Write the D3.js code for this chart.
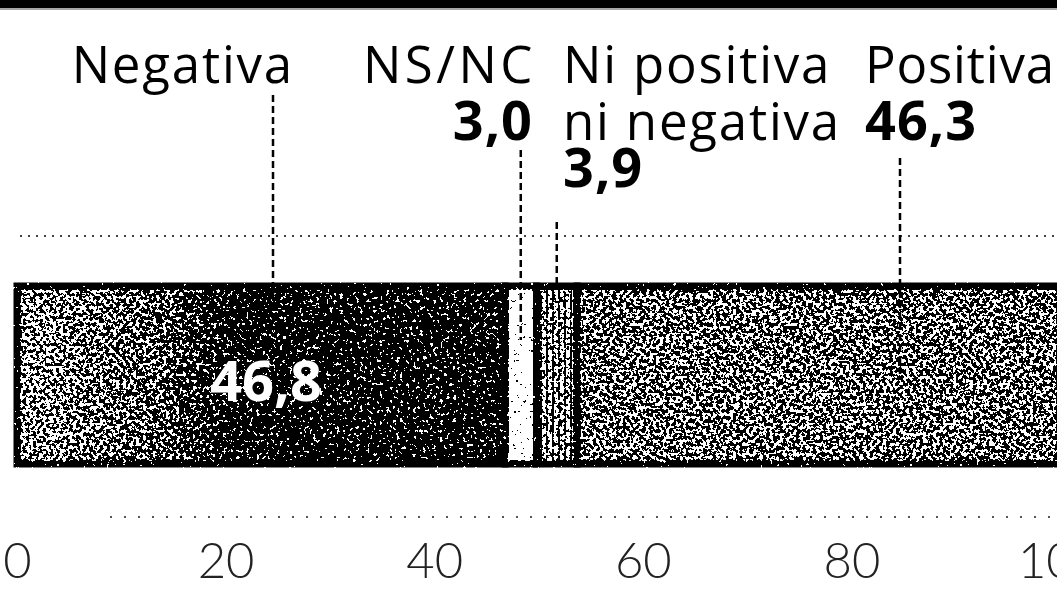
<!DOCTYPE html>
<html>
<head>
<meta charset="utf-8">
<script src="https://cdn.jsdelivr.net/npm/d3@7"></script>
<style>
    body { margin: 0; background: #fff; }
    svg { display: block; font-family: "Open Sans", "Noto Sans", sans-serif; }
</style>
</head>
<body>
<div id="chart"></div>
<script>
const categories = ["Negativa", "NS/NC", "Ni positiva ni negativa", "Positiva"];
const values = [46.8, 3.0, 3.9, 46.3];
const tickValues = [0, 20, 40, 60, 80, 100];

const width = 1057, height = 593;
const fmt = d3.formatLocale({decimal: ",", thousands: ".", grouping: [3], currency: ["", "€"]}).format(".1f");

const x = d3.scaleLinear().domain([0, 100]).range([17, 1060]);
const barTop = 286, barBottom = 464;

// stacked segments
let acc = 0;
const segments = categories.map((c, i) => {
    const s = {name: c, value: values[i], x0: acc, x1: acc + values[i]};
    acc += values[i];
    return s;
});

const svg = d3.select("#chart").append("svg")
    .attr("width", width).attr("height", height);

const defs = svg.append("defs");
const grad = defs.append("linearGradient").attr("id", "neg-grad");
grad.append("stop").attr("offset", "0%").attr("stop-color", "#8c8c8c");
grad.append("stop").attr("offset", "30%").attr("stop-color", "#666");
grad.append("stop").attr("offset", "45%").attr("stop-color", "#2a2a2a");
grad.append("stop").attr("offset", "100%").attr("stop-color", "#303030");

const stripes = defs.append("pattern").attr("id", "stripes")
    .attr("patternUnits", "userSpaceOnUse").attr("width", 6).attr("height", 4);
stripes.append("rect").attr("width", 6).attr("height", 4).attr("fill", "#a0a0a0");
stripes.append("rect").attr("width", 2).attr("height", 4).attr("fill", "#333");

// print grain: threshold the fill against noise so it reads like the scanned halftone
const grain = defs.append("filter").attr("id", "grain")
    .attr("color-interpolation-filters", "sRGB");
grain.append("feTurbulence").attr("type", "fractalNoise")
    .attr("baseFrequency", 0.3).attr("numOctaves", 2).attr("seed", 7).attr("result", "noise");
grain.append("feColorMatrix").attr("in", "noise").attr("type", "matrix")
    .attr("values", "1 0 0 0 0  1 0 0 0 0  1 0 0 0 0  0 0 0 0 1").attr("result", "n");
grain.append("feComposite").attr("in", "SourceGraphic").attr("in2", "n")
    .attr("operator", "arithmetic").attr("k1", 0).attr("k2", 1).attr("k3", 2.2).attr("k4", -1.1)
    .attr("result", "sum");
const ct = grain.append("feComponentTransfer").attr("in", "sum").attr("result", "bw");
["feFuncR", "feFuncG", "feFuncB"].forEach(f => ct.append(f).attr("type", "discrete").attr("tableValues", "0 1"));
grain.append("feComposite").attr("in", "bw").attr("in2", "SourceAlpha").attr("operator", "in");

const fills = ["url(#neg-grad)", "#fff", "url(#stripes)", "#767676"];

// top band
svg.append("rect").attr("x", 0).attr("y", 0).attr("width", width).attr("height", 8).attr("fill", "#000");
svg.append("line").attr("x1", 0).attr("x2", width).attr("y1", 9).attr("y2", 9)
    .attr("stroke", "#888").attr("stroke-width", 1.5);

// dotted guide lines
svg.append("line").attr("x1", 20).attr("x2", width).attr("y1", 236).attr("y2", 236)
    .attr("stroke", "#444").attr("stroke-width", 2).attr("stroke-dasharray", "2,6");
svg.append("line").attr("x1", 110).attr("x2", width).attr("y1", 517).attr("y2", 517)
    .attr("stroke", "#555").attr("stroke-width", 2).attr("stroke-dasharray", "2,12");

// bar
svg.append("g").attr("class", "bar")
    .attr("filter", "url(#grain)")
    .selectAll("rect")
    .data(segments)
    .enter().append("rect")
    .attr("x", d => x(d.x0))
    .attr("y", barTop)
    .attr("width", d => x(d.x1) - x(d.x0))
    .attr("height", barBottom - barTop)
    .attr("fill", (d, i) => fills[i])
    .attr("stroke", "#000")
    .attr("stroke-width", 7);

// value inside the big negative segment
svg.append("text")
    .attr("x", 266).attr("y", 401)
    .attr("text-anchor", "middle")
    .attr("font-size", 56).attr("font-weight", 700)
    .attr("fill", "#fff")
    .text(fmt(values[0]));

// leader lines
const leaders = [
    {x: 273, y1: 95, y2: 330},
    {x: x((segments[1].x0 + segments[1].x1) / 2), y1: 150, y2: 340},
    {x: x((segments[2].x0 + segments[2].x1) / 2), y1: 222, y2: 290},
    {x: 900, y1: 158, y2: 380}
];
svg.append("g").selectAll("line")
    .data(leaders)
    .enter().append("line")
    .attr("x1", d => d.x).attr("x2", d => d.x)
    .attr("y1", d => d.y1).attr("y2", d => d.y2)
    .attr("stroke", "#000")
    .attr("stroke-width", 2.5)
    .attr("stroke-dasharray", "7,4");

// labels, one text element per callout
const lab = svg.append("g").attr("font-size", 51).attr("font-weight", 500)
    .attr("letter-spacing", 1.8).attr("fill", "#000");

lab.append("text").attr("x", 294).attr("y", 83).attr("text-anchor", "end").text(categories[0]);

const ns = lab.append("text").attr("text-anchor", "end");
ns.append("tspan").attr("x", 536).attr("y", 83).attr("letter-spacing", 3.5).text(categories[1]);
ns.append("tspan").attr("x", 533).attr("y", 140).attr("font-size", 54).attr("font-weight", 700)
    .attr("letter-spacing", 1).text(fmt(values[1]));

const ni = lab.append("text");
ni.append("tspan").attr("x", 563).attr("y", 83).text("Ni positiva");
ni.append("tspan").attr("x", 563).attr("y", 140).text("ni negativa");
ni.append("tspan").attr("x", 563).attr("y", 187).attr("font-size", 54).attr("font-weight", 700)
    .attr("letter-spacing", 1).text(fmt(values[2]));

const po = lab.append("text").attr("letter-spacing", 0.8);
po.append("tspan").attr("x", 865).attr("y", 83).text(categories[3]);
po.append("tspan").attr("x", 865).attr("y", 140).attr("font-size", 54).attr("font-weight", 700)
    .attr("letter-spacing", 1).text(fmt(values[3]));

// axis
const axis = svg.append("g")
    .attr("transform", "translate(0,578)")
    .call(d3.axisBottom(x).tickValues(tickValues).tickSize(0).tickPadding(0).tickFormat(d3.format("d")));
axis.select(".domain").remove();
axis.selectAll("text")
    .attr("y", 0).attr("dy", null)
    .attr("font-family", "Lato, 'Open Sans', sans-serif")
    .attr("font-weight", 300)
    .attr("font-size", 49)
    .attr("fill", "#222");
</script>
</body>
</html>
